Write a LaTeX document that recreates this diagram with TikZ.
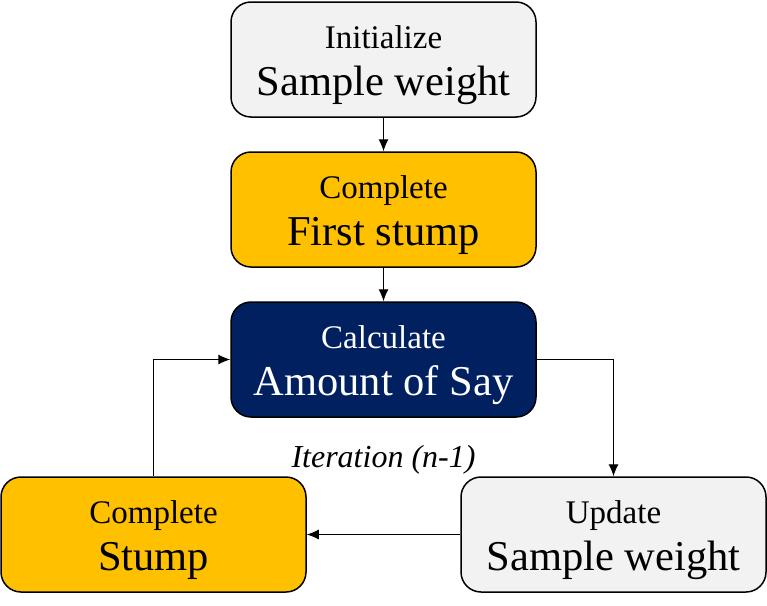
\documentclass[tikz,border=0pt]{standalone}
\usepackage{fontspec}
\setmainfont{Liberation Serif}
\usepackage{tikz}
\usetikzlibrary{arrows.meta}

\definecolor{boxgray}{HTML}{F2F2F2}
\definecolor{boxgold}{HTML}{FFC000}
\definecolor{boxnavy}{HTML}{002060}

\newcommand{\bigline}[1]{{\fontsize{42.5}{47}\selectfont #1}}

\tikzset{
  stepbox/.style={draw, line width=1.5pt, rounded corners=20pt,
    minimum width=305pt, minimum height=115pt, inner sep=0pt,
    align=center, text height=71pt, text depth=0pt,
    font=\fontsize{33}{47}\selectfont},
  arr/.style={-{Latex[length=12pt,width=10pt]}, line width=1pt},
}

\begin{document}
\begin{tikzpicture}[x=1pt, y=-1pt]
\useasboundingbox (0,0) rectangle (767,605);

\node[stepbox, fill=boxgray] (init) at (383.5,59.5) {Initialize\\\bigline{Sample weight}};
\node[stepbox, fill=boxgold] (first) at (383.5,209.5) {Complete\\\bigline{First stump}};
\node[stepbox, fill=boxnavy, text=white] (calc) at (383.5,359.5) {Calculate\\\bigline{Amount of Say}};
\node[stepbox, fill=boxgold] (stump) at (153.5,534.5) {Complete\\\bigline{Stump}};
\node[stepbox, fill=boxgray] (update) at (613.5,534.5) {Update\\\bigline{Sample weight}};

\node[anchor=base, font=\fontsize{32}{38}\selectfont\itshape] (iter) at (383.5,467) {Iteration (n-1)};

\draw[arr] (init) -- (first);
\draw[arr] (first) -- (calc);
\draw[arr] (calc.east) -| (update.north);
\draw[arr] (update.west) -- (stump.east);
\draw[arr] (stump.north) |- (calc.west);
\end{tikzpicture}
\end{document}
